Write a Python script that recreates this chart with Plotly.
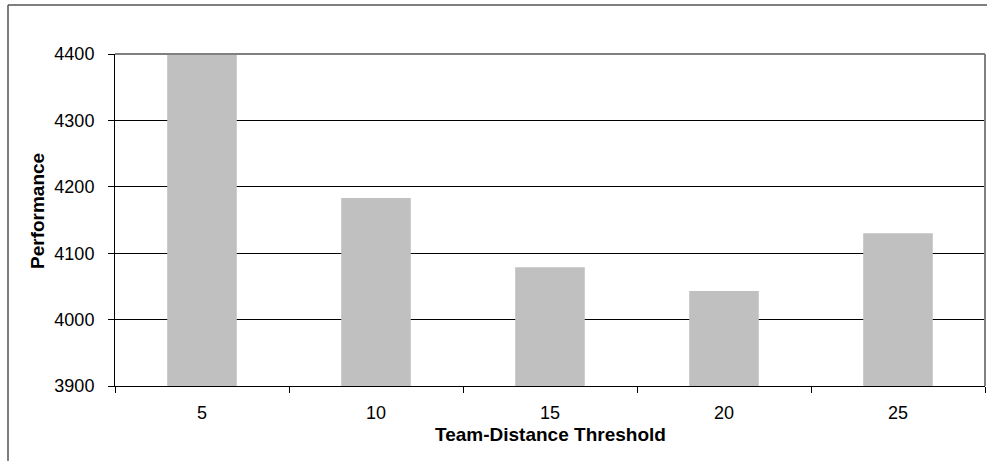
import plotly.graph_objects as go

# Team-distance thresholds and the measured performance for each
thresholds = ["5", "10", "15", "20", "25"]
performance = [4400, 4183, 4079, 4043, 4130]

y_ticks = [3900, 4000, 4100, 4200, 4300, 4400]

FONT = "Liberation Sans, Arial, sans-serif"

fig = go.Figure(
    go.Bar(
        x=thresholds,
        y=performance,
        marker=dict(color="#C0C0C0", line=dict(width=0)),
        hoverinfo="x+y",
    )
)

W, H = 987, 461
L, R, T, B = 115, 2, 54, 75
pw = W - L - R
ph = H - T - B

fig.update_layout(
    width=W,
    height=H,
    margin=dict(l=L, r=R, t=T, b=B, pad=0),
    paper_bgcolor="white",
    plot_bgcolor="white",
    bargap=0.6,
    showlegend=False,
    font=dict(family=FONT, size=18, color="black"),
    xaxis=dict(
        type="category",
        showline=True,
        linecolor="black",
        linewidth=1,
        ticks="outside",
        tickson="boundaries",
        ticklen=6,
        tickcolor="black",
        tickwidth=1,
        showgrid=False,
        ticklabelstandoff=10,
        tickfont=dict(family=FONT, size=18, color="black"),
    ),
    yaxis=dict(
        range=[3900, 4400],
        tickvals=y_ticks,
        ticktext=[str(v) for v in y_ticks],
        showline=True,
        linecolor="black",
        linewidth=1,
        ticks="outside",
        ticklen=6,
        tickcolor="black",
        tickwidth=1,
        showgrid=True,
        gridcolor="black",
        gridwidth=1,
        zeroline=False,
        ticklabelstandoff=10,
        tickfont=dict(family=FONT, size=18, color="black"),
    ),
    annotations=[
        dict(
            text="<b>Team-Distance Threshold</b>",
            xref="paper", yref="paper",
            x=(550 - L) / pw, y=(H - B - 434) / ph,
            xanchor="center", yanchor="middle",
            showarrow=False,
            font=dict(family=FONT, size=19, color="black"),
        ),
        dict(
            text="<b>Performance</b>",
            xref="paper", yref="paper",
            x=(37 - L) / pw, y=(H - B - 211) / ph,
            xanchor="center", yanchor="middle",
            textangle=-90,
            showarrow=False,
            font=dict(family=FONT, size=19, color="black"),
        ),
    ],
    shapes=[
        # gray frame on top and right of the plotting area
        dict(type="line", xref="paper", yref="paper", x0=0, x1=1, y0=1, y1=1,
             line=dict(color="#808080", width=2), layer="above"),
        dict(type="line", xref="paper", yref="paper", x0=1, x1=1, y0=0, y1=1,
             line=dict(color="#808080", width=2), layer="above"),
        # outer chart frame (top and left edges)
        dict(type="line", xref="paper", yref="paper",
             x0=(8 - L) / pw, x1=(W + 20 - L) / pw,
             y0=(H - B - 5) / ph, y1=(H - B - 5) / ph,
             line=dict(color="#555555", width=1.5), layer="above"),
        dict(type="line", xref="paper", yref="paper",
             x0=(8 - L) / pw, x1=(8 - L) / pw,
             y0=(H - B - 5) / ph, y1=(H - B - H - 20) / ph,
             line=dict(color="#555555", width=1.5), layer="above"),
    ],
)

fig.write_html("out.html")
